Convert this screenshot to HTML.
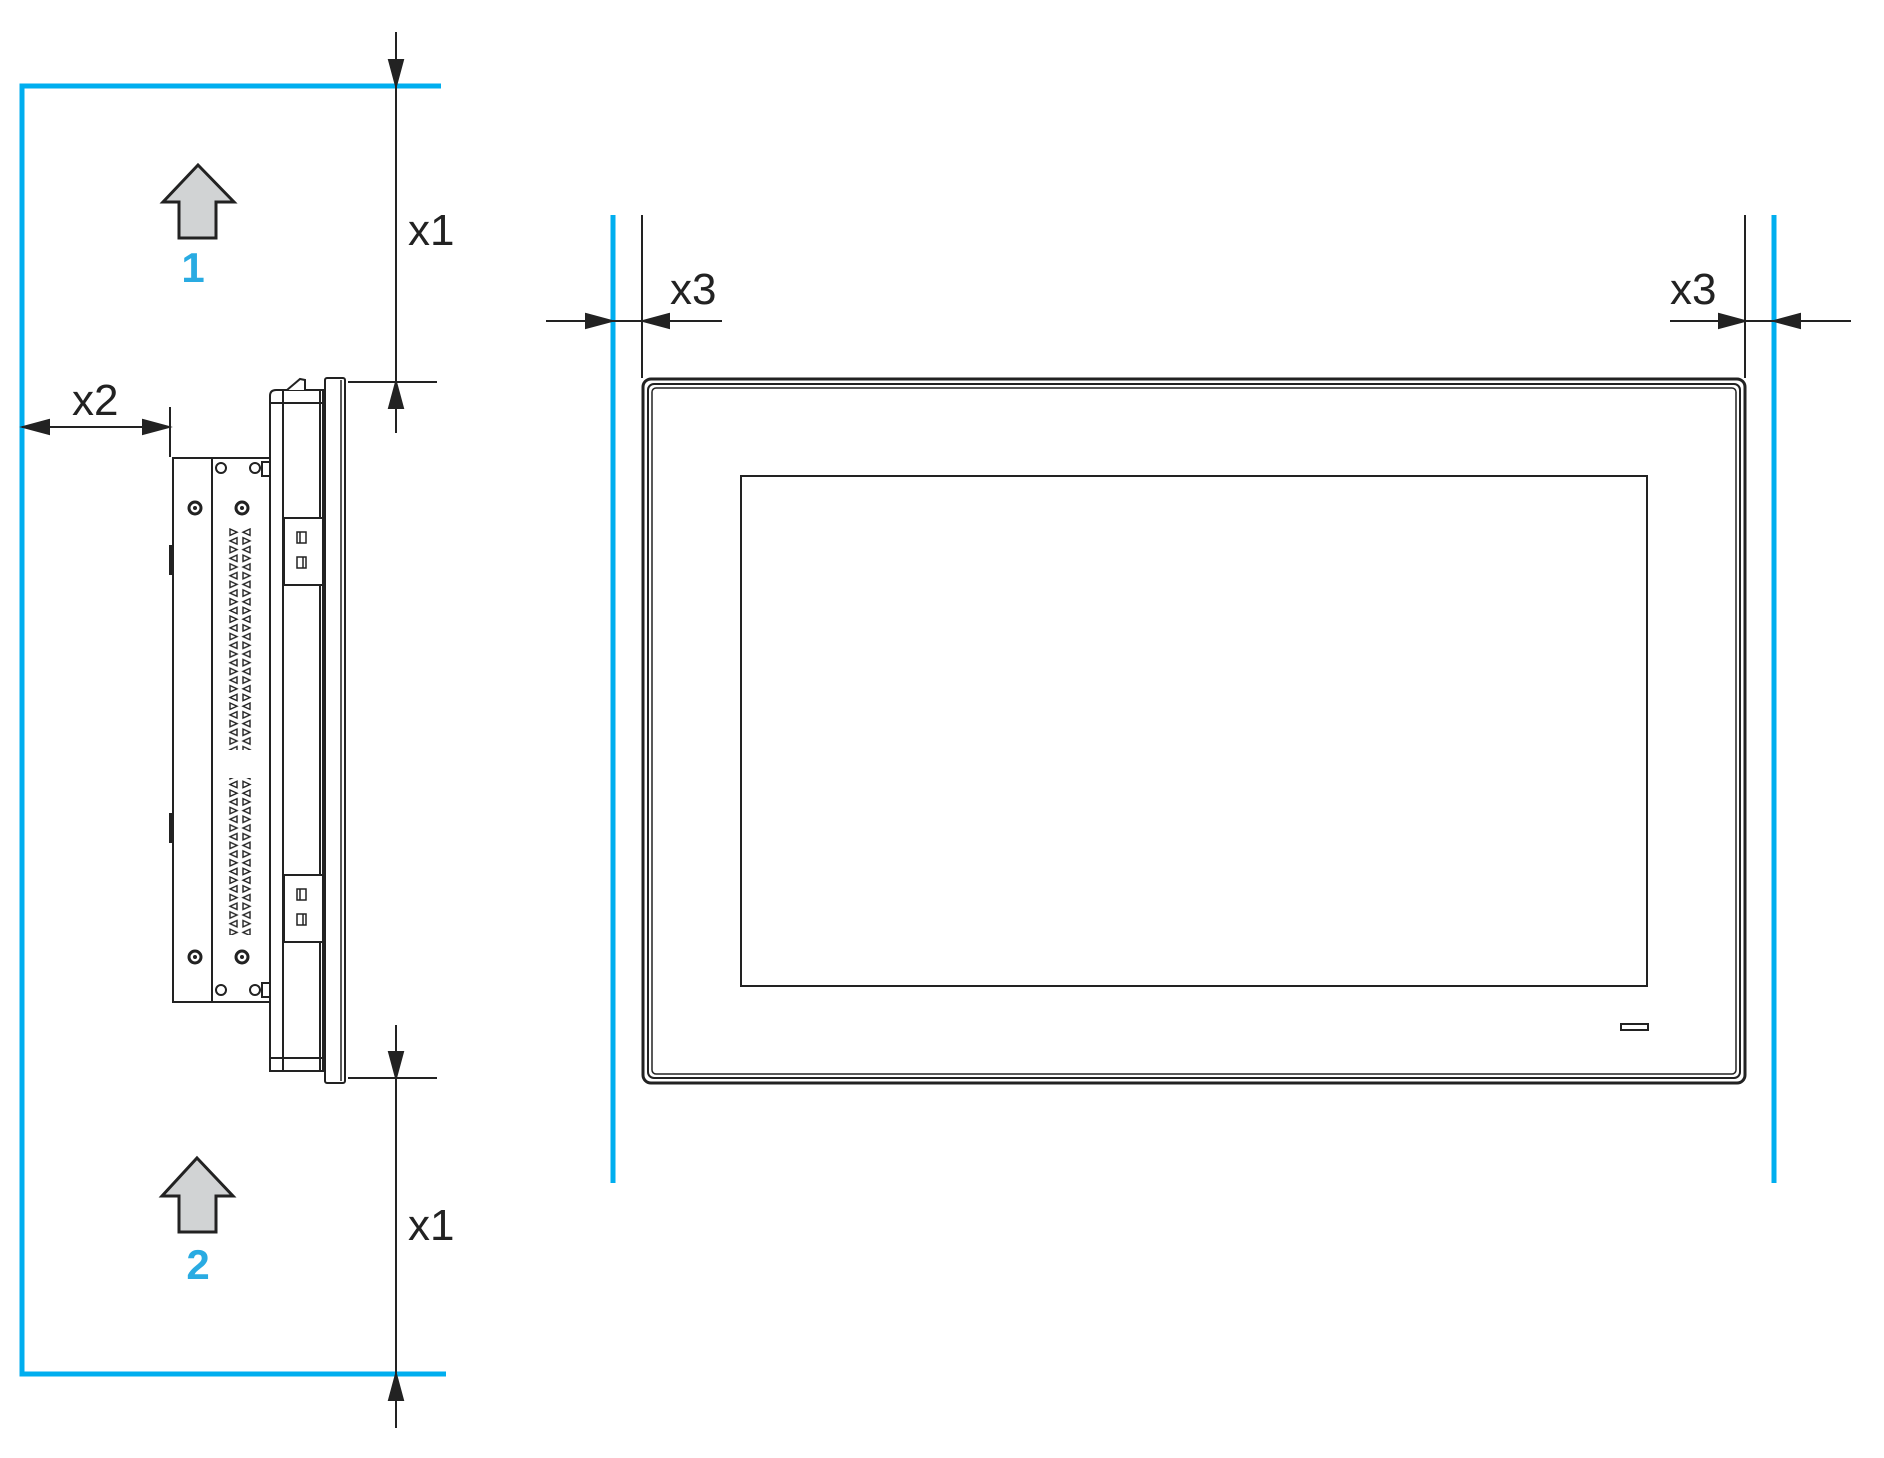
<!DOCTYPE html>
<html><head><meta charset="utf-8"><style>html,body{margin:0;padding:0;background:#fff}svg{display:block}</style></head>
<body>
<svg width="1884" height="1458" viewBox="0 0 1884 1458" xmlns="http://www.w3.org/2000/svg">
<defs>
<pattern id="vent" x="228" y="528" width="24" height="17.4" patternUnits="userSpaceOnUse">
<path d="M2,1 L9,4.2 L2,7.4 z M9,9.7 L2,12.9 L9,16.1 z" fill="none" stroke="#222" stroke-width="1.4"/>
<path d="M22,1 L15,4.2 L22,7.4 z M15,9.7 L22,12.9 L15,16.1 z" fill="none" stroke="#222" stroke-width="1.4"/>
</pattern>
</defs>
<g fill="none" stroke="#00aeef" stroke-width="5">
<polyline points="441,86 22,86 22,1374 446,1374"/>
<line x1="613" y1="215" x2="613" y2="1183"/>
<line x1="1774" y1="215" x2="1774" y2="1183"/>
</g>
<g stroke="#222" stroke-width="2" fill="none">
<line x1="396" y1="32" x2="396" y2="70"/>
<path d="M389,60 L396,86 L403,60 z" fill="#222"/>
<line x1="396" y1="86" x2="396" y2="382"/>
<line x1="348" y1="382" x2="437" y2="382"/>
<path d="M389,408 L396,382 L403,408 z" fill="#222"/>
<line x1="396" y1="400" x2="396" y2="433"/>
<line x1="396" y1="1025" x2="396" y2="1060"/>
<path d="M389,1052 L396,1078 L403,1052 z" fill="#222"/>
<line x1="348" y1="1078" x2="437" y2="1078"/>
<line x1="396" y1="1078" x2="396" y2="1374"/>
<path d="M389,1400 L396,1374 L403,1400 z" fill="#222"/>
<line x1="396" y1="1390" x2="396" y2="1428"/>
<line x1="22" y1="427" x2="170" y2="427"/>
<path d="M49,420 L23,427 L49,434 z" fill="#222"/>
<path d="M143,420 L169,427 L143,434 z" fill="#222"/>
<line x1="170" y1="407" x2="170" y2="457"/>
<line x1="546" y1="321" x2="722" y2="321"/>
<path d="M586,314 L612,321 L586,328 z" fill="#222"/>
<path d="M669,314 L643,321 L669,328 z" fill="#222"/>
<line x1="642" y1="215" x2="642" y2="378"/>
<line x1="1670" y1="321" x2="1851" y2="321"/>
<path d="M1719,314 L1745,321 L1719,328 z" fill="#222"/>
<path d="M1800,314 L1774,321 L1800,328 z" fill="#222"/>
<line x1="1745" y1="215" x2="1745" y2="378"/>
</g>
<g fill="#d1d3d4" stroke="#222" stroke-width="3" stroke-linejoin="miter">
<path d="M198,165 L234,202 L216,202 L216,238 L179,238 L179,202 L163,202 z"/>
<path d="M197,1158 L233,1196 L216,1196 L216,1232 L179,1232 L179,1196 L162,1196 z"/>
</g>
<g font-family="Liberation Sans, sans-serif">
<text x="193" y="282" font-size="42" font-weight="bold" fill="#29abe2" text-anchor="middle">1</text>
<text x="198" y="1279" font-size="42" font-weight="bold" fill="#29abe2" text-anchor="middle">2</text>
<g fill="#222" font-size="44">
<text x="408" y="245">x1</text>
<text x="408" y="1240">x1</text>
<text x="72" y="415">x2</text>
<text x="670" y="304">x3</text>
<text x="1670" y="304">x3</text>
</g>
</g>
<g stroke="#222" stroke-width="2" fill="#fff">
<rect x="173" y="458" width="39" height="544"/>
<rect x="212" y="458" width="58" height="544"/>
<path d="M270,1071 L270,396 Q270,390 276,390 L323,390 L323,1071 z"/>
<line x1="270" y1="403" x2="323" y2="403"/>
<line x1="270" y1="1058" x2="323" y2="1058"/>
<line x1="283" y1="390" x2="283" y2="1071"/>
<line x1="320" y1="390" x2="320" y2="1071"/>
<path d="M287,390 L300,379 L305,380 L305,390"/>
<rect x="325" y="378" width="20" height="705" rx="2"/>
<line x1="341" y1="380" x2="341" y2="1081" stroke-width="1.5"/>
<rect x="284" y="518" width="39" height="67"/>
<rect x="284" y="875" width="39" height="67"/>
</g>
<g fill="#fff" stroke="#222" stroke-width="1.5">
<rect x="297" y="532" width="9" height="11"/><rect x="297" y="557" width="9" height="11"/>
<rect x="297" y="889" width="9" height="11"/><rect x="297" y="914" width="9" height="11"/>
<line x1="300" y1="532" x2="300" y2="543"/><line x1="303" y1="557" x2="303" y2="568"/>
<line x1="300" y1="889" x2="300" y2="900"/><line x1="303" y1="914" x2="303" y2="925"/>
</g>
<g fill="#222"><rect x="169" y="545" width="4" height="30"/><rect x="169" y="813" width="4" height="30"/></g>
<rect x="228" y="528" width="24" height="222" fill="url(#vent)"/>
<rect x="228" y="778" width="24" height="157" fill="url(#vent)"/>
<g stroke="#222" fill="#fff">
<circle cx="195" cy="508" r="6" stroke-width="3"/><circle cx="242" cy="508" r="6" stroke-width="3"/>
<circle cx="195" cy="957" r="6" stroke-width="3"/><circle cx="242" cy="957" r="6" stroke-width="3"/>
<circle cx="221" cy="468" r="5" stroke-width="2"/><circle cx="255" cy="468" r="5" stroke-width="2"/>
<circle cx="221" cy="990" r="5" stroke-width="2"/><circle cx="255" cy="990" r="5" stroke-width="2"/>
<rect x="262" y="462" width="8" height="14" stroke-width="2"/><rect x="262" y="983" width="8" height="14" stroke-width="2"/>
</g>
<g fill="#222"><circle cx="195" cy="508" r="2"/><circle cx="242" cy="508" r="2"/><circle cx="195" cy="957" r="2"/><circle cx="242" cy="957" r="2"/></g>
<g fill="none" stroke="#222">
<rect x="643" y="379" width="1102" height="704" rx="8" stroke-width="3"/>
<rect x="648" y="384" width="1092" height="694" rx="6" stroke-width="2"/>
<rect x="652" y="388" width="1084" height="686" rx="4" stroke-width="1.5"/>
<rect x="741" y="476" width="906" height="510" stroke-width="2"/>
<rect x="1621" y="1024" width="27" height="6" stroke-width="2"/>
</g>
</svg>
</body></html>
